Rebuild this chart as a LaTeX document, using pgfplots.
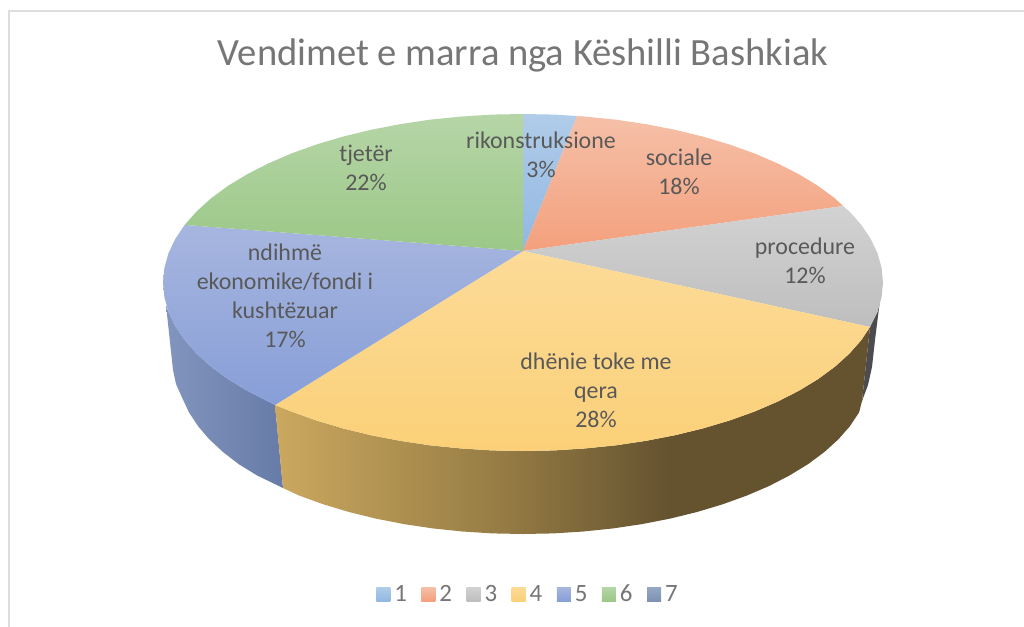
\documentclass[border=0pt]{standalone}
\usepackage{pgfplots}
\pgfplotsset{compat=1.18}
\usepackage{fontspec}
\setmainfont{Carlito}
\definecolor{txt}{RGB}{89,89,89}
\definecolor{ttl}{RGB}{118,118,118}
\definecolor{frm}{RGB}{221,221,221}
\definecolor{a1}{RGB}{176,204,233}\definecolor{b1}{RGB}{146,184,225}
\definecolor{a2}{RGB}{245,192,168}\definecolor{b2}{RGB}{244,160,125}
\definecolor{a3}{RGB}{210,210,210}\definecolor{b3}{RGB}{190,190,190}
\definecolor{a4}{RGB}{252,219,152}\definecolor{b4}{RGB}{251,208,120}
\definecolor{a5}{RGB}{167,182,223}\definecolor{b5}{RGB}{135,158,215}
\definecolor{a6}{RGB}{182,213,167}\definecolor{b6}{RGB}{155,200,135}
\definecolor{a7}{RGB}{150,168,196}\definecolor{b7}{RGB}{125,146,180}
\definecolor{y1}{RGB}{203,168,95}\definecolor{y2}{RGB}{150,124,68}\definecolor{y3}{RGB}{101,83,48}
\pgfdeclarehorizontalshading{yside}{100bp}{color(0bp)=(y1);color(25bp)=(y1);color(44bp)=(y2);color(58bp)=(y3);color(100bp)=(y3)}
\definecolor{u1}{RGB}{130,149,190}\definecolor{u2}{RGB}{103,123,168}
\pgfdeclarehorizontalshading{uside}{100bp}{color(0bp)=(u1);color(25bp)=(u1);color(75bp)=(u2);color(100bp)=(u2)}
\pgfplotsset{sq/.style={area legend,draw=none,legend image code/.code={\path[##1] (0bp,-7bp) rectangle (14bp,7bp);\path (16bp,0bp);}}}
\begin{document}
\begin{tikzpicture}
\begin{axis}[
  scale only axis, width=1024bp, height=626bp,
  xmin=0, xmax=1024, ymin=0, ymax=626, y dir=reverse,
  hide axis, no markers, clip=true,
  legend columns=7, legend cell align=left,
  legend style={at={(axis cs:528,594)}, anchor=center, draw=none, fill=none,
    font=\fontsize{25}{29}\selectfont\color{ttl},
    /tikz/every even column/.append style={column sep=12.5bp}},
]
% background and frame
\addplot[draw=none,fill=white,forget plot] coordinates {(0,0)(1024,0)(1024,626)(0,626)};
\addplot[frm,line width=1.5bp,forget plot] coordinates {(9,630)(9,11)(1030,11)};
% sides
\addplot[draw=none,shading=uside,forget plot] coordinates {
(275,405)(268.4,401.6)(247.2,390.8)(228.1,379.2)(211.2,366.8)(196.7,353.7)(184.7,340.1)(175.3,326.1)(168.5,311.8)(166,305)
(173,370)(176,384)(182.5,398.5)(189,412.4)(198,426.1)(209,439)(223,452)(238.5,464)(257,475.4)(283,488)};
\addplot[draw=none,fill={rgb,255:red,76;green,76;blue,80},forget plot] coordinates {
(870,327)(877.5,311.8)(880,300)(875,340)(872,367)(868,385)(862,401)};
\addplot[draw=none,shading=yside,forget plot] coordinates {
(870,327)(861.3,340.1)(849.3,353.7)(834.8,366.8)(817.9,379.2)(798.8,390.8)(777.6,401.6)(754.4,411.6)(729.5,420.5)(703,428.4)(675.1,435.2)(646.1,440.8)(616.2,445.3)(585.5,448.4)(554.4,450.4)(523,451)(491.6,450.4)(460.5,448.4)(429.8,445.3)(399.9,440.8)(370.9,435.2)(343,428.4)(316.5,420.5)(291.6,411.6)(275,405)
(283,488)(299.3,495.6)(323.4,504.3)(349,512)(375.9,518.6)(404,524.1)(432.9,528.4)(462.6,531.5)(492.7,533.4)(523,534)(553.3,533.4)(583.4,531.5)(613.1,528.4)(642,524.1)(670.1,518.6)(697,512)(722.6,504.3)(746.7,495.6)(769.1,486)(789.6,475.4)(808.1,464.1)(824.4,452)(838.4,439.3)(850,426.1)(859.1,412.4)(862,401)};
% top faces
\addplot[draw=none,top color=a1,bottom color=b1,forget plot] coordinates {(523,251)(523,114)(554.4,114.6)(577,116)};
\addplot[draw=none,top color=a2,bottom color=b2,forget plot] coordinates {(523,251)(577,116)(585.5,116.6)(616.2,119.7)(646.1,124.2)(675.1,129.8)(703,136.6)(729.5,144.5)(754.4,153.4)(777.6,163.4)(798.8,174.2)(817.9,185.8)(834.8,198.2)(843,206)};
\addplot[draw=none,top color=a3,bottom color=b3,forget plot] coordinates {(523,251)(843,206)(849.3,211.3)(861.3,224.9)(870.7,238.9)(877.5,253.2)(881.6,267.8)(883,282.5)(881.6,297.2)(877.5,311.8)(870,327)};
\addplot[draw=none,top color=a4,bottom color=b4,forget plot] coordinates {(523,251)(870,327)(861.3,340.1)(849.3,353.7)(834.8,366.8)(817.9,379.2)(798.8,390.8)(777.6,401.6)(754.4,411.6)(729.5,420.5)(703,428.4)(675.1,435.2)(646.1,440.8)(616.2,445.3)(585.5,448.4)(554.4,450.4)(523,451)(491.6,450.4)(460.5,448.4)(429.8,445.3)(399.9,440.8)(370.9,435.2)(343,428.4)(316.5,420.5)(291.6,411.6)(275,405)};
\addplot[draw=none,top color=a5,bottom color=b5,forget plot] coordinates {(523,251)(275,405)(268.4,401.6)(247.2,390.8)(228.1,379.2)(211.2,366.8)(196.7,353.7)(184.7,340.1)(175.3,326.1)(168.5,311.8)(164.4,297.2)(163,282.5)(164.4,267.8)(168.5,253.2)(175.3,238.9)(184.7,224.9)};
\addplot[draw=none,top color=a6,bottom color=b6,forget plot] coordinates {(523,251)(184.7,224.9)(196.7,211.3)(211.2,198.2)(228.1,185.8)(247.2,174.2)(268.4,163.4)(291.6,153.4)(316.5,144.5)(343,136.6)(370.9,129.8)(399.9,124.2)(429.8,119.7)(460.5,116.6)(491.6,114.6)(523,114)};
% legend
\addlegendimage{sq,top color=a1,bottom color=b1}\addlegendentry{1}
\addlegendimage{sq,top color=a2,bottom color=b2}\addlegendentry{2}
\addlegendimage{sq,top color=a3,bottom color=b3}\addlegendentry{3}
\addlegendimage{sq,top color=a4,bottom color=b4}\addlegendentry{4}
\addlegendimage{sq,top color=a5,bottom color=b5}\addlegendentry{5}
\addlegendimage{sq,top color=a6,bottom color=b6}\addlegendentry{6}
\addlegendimage{sq,top color=a7,bottom color=b7}\addlegendentry{7}
% texts
\node[text=ttl,font=\fontsize{38.7}{44}\selectfont] at (axis cs:523,55) {Vendimet e marra nga Këshilli Bashkiak};
\tikzset{lab/.style={text=txt,align=center,font=\fontsize{24}{29}\selectfont}}
\node[lab] at (axis cs:541,155) {rikonstruksione\\3\%};
\node[lab] at (axis cs:679,172) {sociale\\18\%};
\node[lab] at (axis cs:805,261) {procedure\\12\%};
\node[lab] at (axis cs:596,390) {dhënie toke me\\qera\\28\%};
\node[lab] at (axis cs:285,296) {ndihmë\\ekonomike/fondi i\\kushtëzuar\\17\%};
\node[lab] at (axis cs:366,168) {tjetër\\22\%};
\end{axis}
\end{tikzpicture}
\end{document}
